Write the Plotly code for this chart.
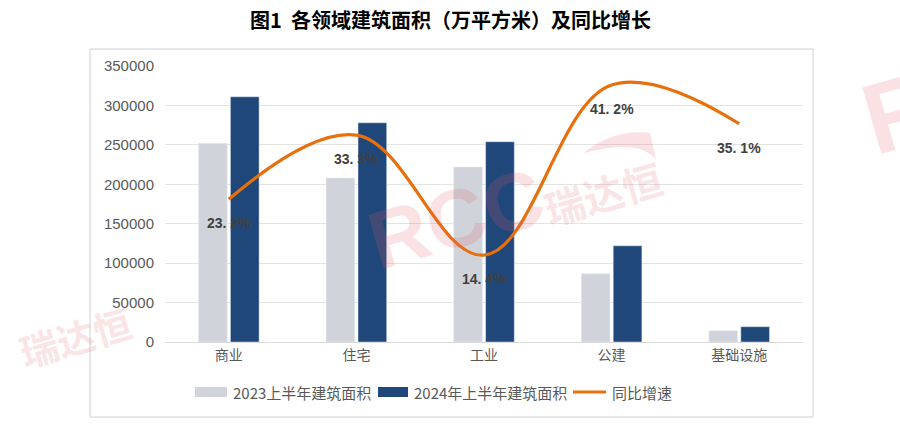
import plotly.graph_objects as go

categories = ["商业", "住宅", "工业", "公建", "基础设施"]
area_2023 = [252000, 208000, 222000, 86500, 14300]
area_2024 = [311000, 278000, 254000, 122000, 19400]
growth = [23.2, 33.3, 14.4, 41.2, 35.1]
growth_labels = ["23. 2%", "33. 3%", "14. 4%", "41. 2%", "35. 1%"]
y_ticks = [0, 50000, 100000, 150000, 200000, 250000, 300000, 350000]

name_2023 = "2023上半年建筑面积"
name_2024 = "2024年上半年建筑面积"
name_growth = "同比增速"

C_GRAY = "#D0D3DA"
C_BLUE = "#20477A"
C_ORANGE = "#E8700C"
CJK = "Noto Sans CJK SC"
LAT = "Liberation Sans, Arial, sans-serif"

fig = go.Figure()
fig.add_trace(go.Bar(x=categories, y=area_2023, name=name_2023, marker_color=C_GRAY, showlegend=False))
fig.add_trace(go.Bar(x=categories, y=area_2024, name=name_2024, marker_color=C_BLUE, showlegend=False))
fig.add_trace(go.Scatter(x=categories, y=growth, name=name_growth, yaxis="y2", mode="lines",
                         line=dict(color=C_ORANGE, width=3.2, shape="spline", smoothing=1.1),
                         showlegend=False))

def px(xp): return (xp - 165) / 638
def py(yp): return (342 - yp) / 276

annotations = []
for c, g, t in zip(categories, growth, growth_labels):
    annotations.append(dict(x=c, y=g, xref="x", yref="y2", text=t, showarrow=False, yshift=-24,
                            font=dict(family=LAT, size=14, color="#404040", weight="bold")))

# title
annotations.append(dict(x=px(450), y=py(20), xref="paper", yref="paper", xanchor="center", yanchor="middle",
                        text="图1  各领域建筑面积（万平方米）及同比增长",
                        showarrow=False, font=dict(family=CJK, size=20, color="#000000", weight="bold")))

# watermarks
wm = "rgba(228,90,100,0.18)"
WLAT = "Liberation Sans Narrow, Liberation Sans, Arial, sans-serif"
annotations.append(dict(x=px(456), y=py(218), xref="paper", yref="paper", xanchor="center", yanchor="middle",
                        text="<b>RCC</b>", showarrow=False,
                        textangle=-16, font=dict(family=WLAT, size=82, color=wm)))
annotations.append(dict(x=px(603), y=py(193), xref="paper", yref="paper", xanchor="center", yanchor="middle",
                        text="瑞达恒", showarrow=False,
                        textangle=-16, font=dict(family=CJK, size=40, color=wm, weight="bold")))
annotations.append(dict(x=px(75), y=py(336), xref="paper", yref="paper", xanchor="center", yanchor="middle",
                        text="瑞达恒", showarrow=False,
                        textangle=-16, font=dict(family=CJK, size=38, color=wm, weight="bold")))
annotations.append(dict(x=px(900), y=py(112), xref="paper", yref="paper", xanchor="center", yanchor="middle",
                        text="<b>R</b>", showarrow=False,
                        textangle=-16, font=dict(family=WLAT, size=100, color=wm)))

shapes = []
def pt(x, y): return f"{px(x):.4f},{py(y):.4f}"
swoosh = (f"M {pt(583,153)} Q {pt(615,128)} {pt(650,133)} L {pt(656,160)} "
          f"Q {pt(640,138)} {pt(583,153)} Z")
shapes.append(dict(type="path", xref="paper", yref="paper", path=swoosh,
                   fillcolor=wm, line=dict(width=0)))

leg_y = py(392)
shapes.append(dict(type="rect", xref="paper", yref="paper", x0=px(195), x1=px(227), y0=py(397), y1=py(387),
                   fillcolor=C_GRAY, line=dict(width=0)))
shapes.append(dict(type="rect", xref="paper", yref="paper", x0=px(378), x1=px(408), y0=py(397), y1=py(387),
                   fillcolor=C_BLUE, line=dict(width=0)))
shapes.append(dict(type="line", xref="paper", yref="paper", x0=px(573), x1=px(606), y0=leg_y, y1=leg_y,
                   line=dict(color=C_ORANGE, width=3)))
for xs, t in [(231, name_2023), (412, name_2024), (610, name_growth)]:
    annotations.append(dict(x=px(xs), y=leg_y, xref="paper", yref="paper", text=t, showarrow=False,
                            xanchor="left", yanchor="middle", font=dict(family=CJK, size=15, color="#595959")))

shapes.append(dict(type="rect", xref="paper", yref="paper", x0=px(90), x1=px(813), y0=py(417), y1=py(49),
                   line=dict(color="#D0D0D0", width=1), fillcolor="rgba(0,0,0,0)", layer="below"))

fig.update_layout(
    width=900, height=431,
    margin=dict(l=165, r=97, t=66, b=89),
    paper_bgcolor="white", plot_bgcolor="white",
    barmode="group", bargap=0.5, bargroupgap=0.1,
    xaxis=dict(showline=True, linecolor="#D9D9D9", linewidth=1, ticks="", showgrid=False,
               tickfont=dict(family=CJK, size=14, color="#595959")),
    yaxis=dict(range=[0, 350000], tickvals=y_ticks, ticktext=[str(v) for v in y_ticks],
               showgrid=True, gridcolor="#E3E3E3", gridwidth=1, zeroline=False, ticks="",
               tickfont=dict(family=LAT, size=15, color="#595959"), ticklabelstandoff=10),
    yaxis2=dict(overlaying="y", side="right", range=[0.7, 44.2], visible=False),
    showlegend=False,
    annotations=annotations,
    shapes=shapes,
)

fig.write_html("out.html")
